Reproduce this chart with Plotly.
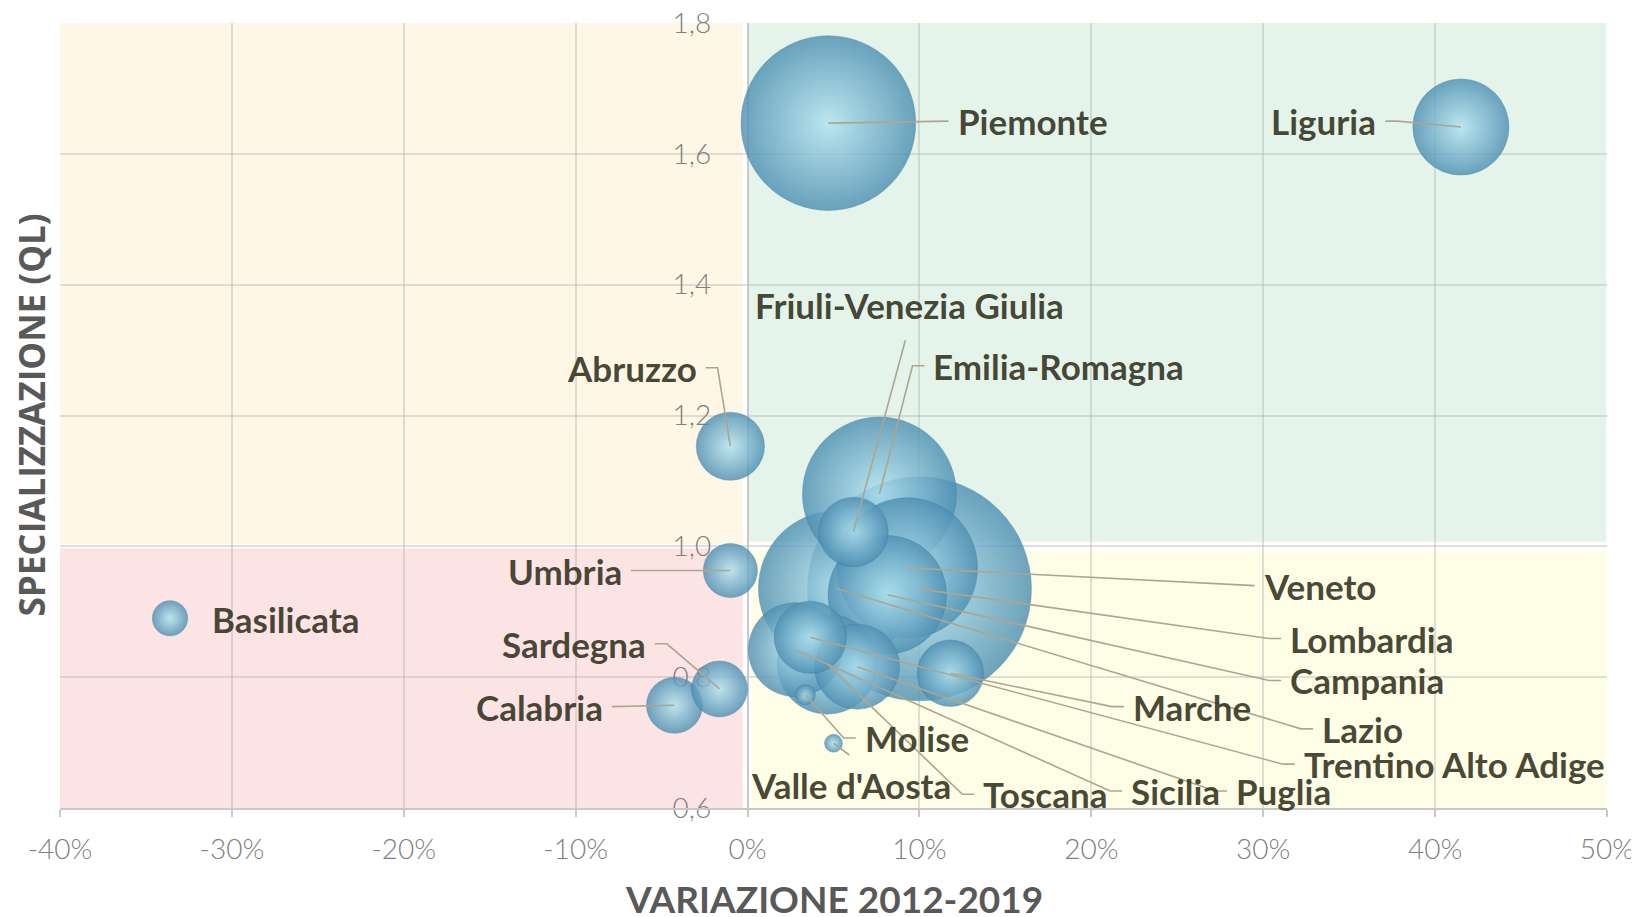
import pandas as pd
import plotly.graph_objects as go

# regioni, variazione 2012-2019 (%), quoziente di localizzazione, dimensione della bolla
REGIONI = ["Piemonte", "Valle d'Aosta", "Lombardia", "Trentino Alto Adige", "Veneto",
           "Friuli-Venezia Giulia", "Liguria", "Emilia-Romagna", "Toscana", "Umbria",
           "Marche", "Lazio", "Abruzzo", "Molise", "Campania", "Puglia", "Basilicata",
           "Calabria", "Sicilia", "Sardegna"]
VARIAZIONE = [4.7, 5.0, 10.0, 3.65, 9.3, 6.16, 41.5, 7.67, 4.64, -1.0,
              11.8, 5.11, -1.0, 3.36, 8.13, 6.37, -33.6, -4.25, 2.78, -1.63]
QL = [1.647, 0.699, 0.935, 0.861, 0.967, 1.022, 1.641, 1.080, 0.820, 0.963,
      0.806, 0.936, 1.153, 0.773, 0.926, 0.816, 0.890, 0.757, 0.842, 0.782]
DIMENSIONE = [76, 0.8, 125, 13, 49, 12, 23, 59, 25, 7.3,
              11, 59, 11.6, 1.0, 35, 18, 3.1, 7.8, 22, 7.8]

X_TICKS = [-40, -30, -20, -10, 0, 10, 20, 30, 40, 50]
X_TICK_LABELS = ["-40%", "-30%", "-20%", "-10%", "0%", "10%", "20%", "30%", "40%", "50%"]
Y_TICKS = [0.6, 0.8, 1.0, 1.2, 1.4, 1.6, 1.8]
Y_TICK_LABELS = ["0,6", "0,8", "1,0", "1,2", "1,4", "1,6", "1,8"]

# label placement (data coords, side of the text the anchor is on)
LABEL_POS = {
    "Piemonte": (12.1, 1.650, "left"),
    "Liguria": (36.7, 1.650, "right"),
    "Friuli-Venezia Giulia": (0.3, 1.369, "left"),
    "Emilia-Romagna": (10.7, 1.276, "left"),
    "Abruzzo": (-2.85, 1.273, "right"),
    "Umbria": (-7.2, 0.963, "right"),
    "Basilicata": (-31.3, 0.889, "left"),
    "Sardegna": (-5.8, 0.851, "right"),
    "Calabria": (-8.3, 0.755, "right"),
    "Molise": (6.7, 0.707, "left"),
    "Valle d'Aosta": (0.07, 0.635, "left"),
    "Toscana": (13.6, 0.621, "left"),
    "Sicilia": (22.2, 0.626, "left"),
    "Puglia": (28.3, 0.626, "left"),
    "Trentino Alto Adige": (32.25, 0.667, "left"),
    "Lazio": (33.3, 0.721, "left"),
    "Marche": (22.3, 0.755, "left"),
    "Campania": (31.45, 0.795, "left"),
    "Lombardia": (31.45, 0.859, "left"),
    "Veneto": (29.9, 0.940, "left"),
}
LEADER_END = {"Friuli-Venezia Giulia": (9.18, 1.315), "Valle d'Aosta": (5.92, 0.681)}
NO_LEADER = {"Basilicata"}

# the page body has an 8px margin (top/left), so the figure is shifted to fit the window
BODY = 8
W, H = 1639 - BODY, 917 - BODY
M = dict(l=60 - BODY, r=W + BODY - 1607, t=23 - BODY, b=H + BODY - 808, pad=0)
X_RANGE = [-40, 50]
Y_RANGE = [0.6, 1.8]
PLOT_W = W - M["l"] - M["r"]
PLOT_H = H - M["t"] - M["b"]
PX_X = PLOT_W / (X_RANGE[1] - X_RANGE[0])

df = pd.DataFrame({"regione": REGIONI, "var": VARIAZIONE, "ql": QL, "dim": DIMENSIONE})
df = df.sort_values("dim", ascending=False)

LABEL_FONT = dict(family="Lato, Open Sans, sans-serif", size=35, weight="bold",
                  color="rgba(48,48,28,0.88)")
TICK_FONT = dict(family="Lato, sans-serif", size=28, weight=300, color="#7f7f7f")

fig = go.Figure()

# quadrant backgrounds
quads = [
    (X_RANGE[0], -0.28, 1.003, Y_RANGE[1], "#fef7e6"),
    (0.05, 49.95, 1.007, Y_RANGE[1], "#e4f4ea"),
    (X_RANGE[0], -0.28, Y_RANGE[0], 0.997, "#fce4e4"),
    (0.25, 50, Y_RANGE[0], 0.993, "#fefde5"),
]
for x0, x1, y0, y1, col in quads:
    fig.add_shape(type="rect", x0=x0, x1=x1, y0=y0, y1=y1, xref="x", yref="y",
                  fillcolor=col, line_width=0, layer="below")

sizeref = df["dim"].max() / (2 * 112 ** 2)
fig.add_trace(go.Scatter(
    x=df["var"], y=df["ql"], mode="markers",
    marker=dict(size=df["dim"], sizemode="area", sizeref=sizeref,
                color="#4f90b3", opacity=0.82,
                gradient=dict(type="radial", color="#b2e4f1"),
                line=dict(width=0.8, color="rgba(60,120,150,0.55)")),
    hovertext=df["regione"], hoverinfo="text", cliponaxis=False,
))

# leader lines
lx, ly = [], []
for _, row in df.iterrows():
    name = row["regione"]
    if name in NO_LEADER:
        continue
    tx, ty, side = LABEL_POS[name]
    if name in LEADER_END:
        ex, ey = LEADER_END[name]
        lx += [row["var"], ex, None]
        ly += [row["ql"], ey, None]
        continue
    sgn = -1 if side == "left" else 1
    ex = tx + sgn * 7 / PX_X
    kx = ex + sgn * 12 / PX_X
    lx += [row["var"], kx, ex, None]
    ly += [row["ql"], ty, ty, None]
fig.add_trace(go.Scatter(x=lx, y=ly, mode="lines", hoverinfo="skip",
                         line=dict(color="#aba692", width=1.6)))

for name, (tx, ty, side) in LABEL_POS.items():
    fig.add_annotation(x=tx, y=ty, xref="x", yref="y", text=name, showarrow=False,
                       xanchor=side, yanchor="middle", font=LABEL_FONT)

# axis titles (positions given in window pixels)
fig.add_annotation(x=0.5, y=-(898 - 808) / PLOT_H,
                   xref="paper", yref="paper", text="VARIAZIONE 2012-2019",
                   showarrow=False, xanchor="center", yanchor="middle",
                   font=dict(family="Lato, sans-serif", size=37, weight="bold", color="#595959"))
fig.add_annotation(x=(31 - 60) / PLOT_W, y=0.5,
                   xref="paper", yref="paper", text="SPECIALIZZAZIONE (QL)", textangle=-90,
                   showarrow=False, xanchor="center", yanchor="middle",
                   font=dict(family="Open Sans, sans-serif", size=35, weight="bold", color="#595959"))

fig.update_layout(
    width=W, height=H, autosize=False,
    margin=M,
    paper_bgcolor="white", plot_bgcolor="white",
    showlegend=False,
    separators=",.",
    xaxis=dict(
        range=X_RANGE, tickvals=X_TICKS, ticktext=X_TICK_LABELS, automargin=False,
        showgrid=True, gridcolor="rgba(185,185,185,0.45)", gridwidth=1.5,
        zeroline=False, showline=True, linecolor="#c8c8c8", linewidth=1.5,
        ticks="outside", ticklen=7, tickcolor="#c8c8c8", tickwidth=1.5,
        ticklabelstandoff=9, tickfont=TICK_FONT, ticklabeloverflow="allow",
    ),
    yaxis=dict(
        range=Y_RANGE, tickvals=Y_TICKS, ticktext=Y_TICK_LABELS, automargin=False,
        anchor="free", position=(0 - X_RANGE[0]) / (X_RANGE[1] - X_RANGE[0]),
        showgrid=True, gridcolor="rgba(185,185,185,0.45)", gridwidth=1.5,
        zeroline=False, showline=True, linecolor="#c8c8c8", linewidth=1.5,
        ticks="", ticklabelstandoff=30, tickfont=TICK_FONT, layer="below traces",
        ticklabeloverflow="allow",
    ),
)

fig.write_html("out.html")
